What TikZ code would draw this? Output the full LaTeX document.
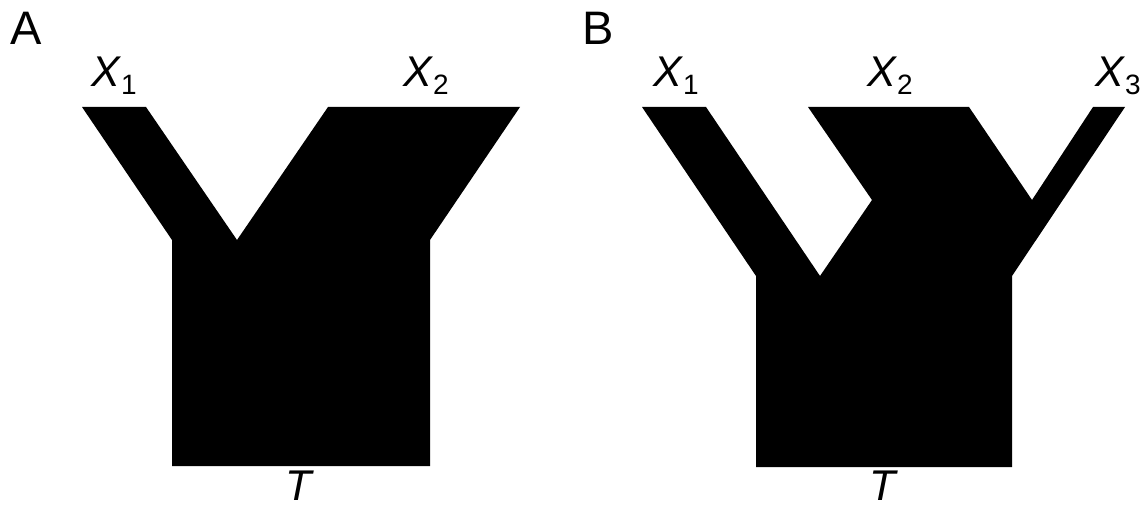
\documentclass[tikz,border=0pt]{standalone}
\usepackage{fontspec}
\setmainfont{Liberation Sans}
\definecolor{sankInk}{HTML}{000000}
\tikzset{
  sank flow/.style={fill=sankInk, draw=none},
  sank panel/.style={font=\fontsize{47}{50}\selectfont, text=sankInk, anchor=base west, inner sep=0pt},
  sank label/.style={font=\fontsize{43}{48}\selectfont, text=sankInk, anchor=base, inner sep=0pt},
}
\newcommand\flowname[2]{\textit{#1}\raisebox{-8pt}{\fontsize{28}{30}\selectfont #2}}

\begin{document}
\begin{tikzpicture}[x=1pt,y=-1pt]
  \useasboundingbox (0,0) rectangle (1145,510);
  % panel A: two inflows merge into T
  \fill[sank flow] (82,107) -- (146,107) -- (237,240) -- (328,107) -- (520,107)
    -- (430,240) -- (430,466) -- (172,466) -- (172,240) -- cycle;
  \node[sank panel] (labA) at (10,45) {A};
  \node[sank label] (aX1) at (114,87) {\flowname{X}{1}};
  \node[sank label] (aX2) at (426,87) {\flowname{X}{2}};
  \node[sank label] (aT) at (300,500) {\textit{T}};
  % panel B: X2 and X3 merge first, then join X1
  \fill[sank flow] (642,107) -- (706,107) -- (820,276) -- (872,200) -- (808,107)
    -- (969,107) -- (1032,200) -- (1093,107) -- (1125,107) -- (1012,276)
    -- (1012,467) -- (756,467) -- (756,276) -- cycle;
  \node[sank panel] (labB) at (582,45) {B};
  \node[sank label] (bX1) at (676,87) {\flowname{X}{1}};
  \node[sank label] (bX2) at (890,87) {\flowname{X}{2}};
  \node[sank label] (bX3) at (1118,87) {\flowname{X}{3}};
  \node[sank label] (bT) at (884,500) {\textit{T}};
\end{tikzpicture}
\end{document}
